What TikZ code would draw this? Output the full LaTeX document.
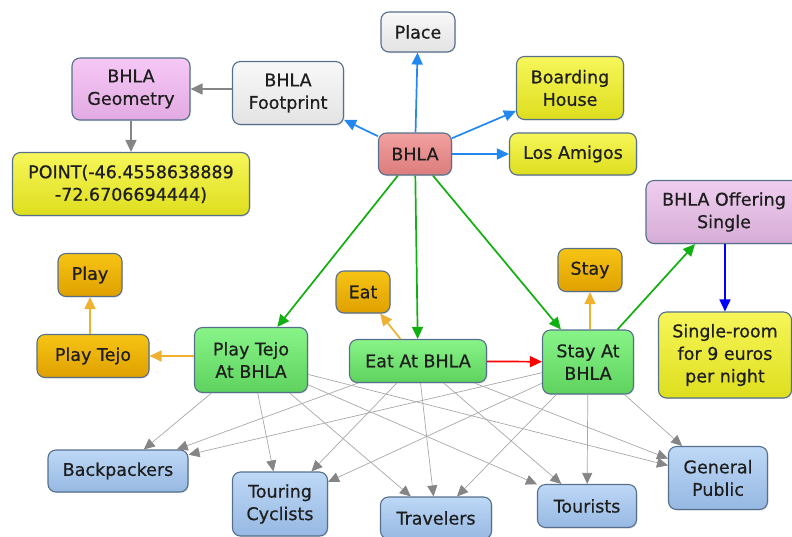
\documentclass[tikz,border=0pt]{standalone}
\usepackage{fontspec}
\setmainfont{DejaVu Sans}[FakeBold=0.6]
\usetikzlibrary{arrows.meta,shadows}

\definecolor{edgeframe}{HTML}{56708C}
\definecolor{txt}{HTML}{1E1E1E}
\definecolor{linkblue}{HTML}{2288F0}
\definecolor{linkgreen}{HTML}{10B010}
\definecolor{linkorange}{HTML}{F0B030}
\definecolor{linkgray}{HTML}{858585}
\definecolor{thingray}{HTML}{A8A8A8}

\tikzset{
  concept/.style={draw=edgeframe, line width=1.1pt, rounded corners=8pt,
    align=center, text=txt, inner sep=0pt,
    font=\fontsize{17.5}{22.5}\selectfont,
    drop shadow={opacity=0.18, shadow xshift=1pt, shadow yshift=-1.2pt}},
  graybox/.style={concept, top color=white!95!gray, bottom color=white!78!gray},
  pinkbox/.style={concept, top color={rgb,255:red,246;green,200;blue,246}, bottom color={rgb,255:red,226;green,170;blue,226}},
  violetbox/.style={concept, top color={rgb,255:red,240;green,206;blue,240}, bottom color={rgb,255:red,214;green,172;blue,214}},
  yellowbox/.style={concept, top color={rgb,255:red,246;green,246;blue,90}, bottom color={rgb,255:red,222;green,222;blue,30}},
  redbox/.style={concept, top color={rgb,255:red,242;green,160;blue,160}, bottom color={rgb,255:red,220;green,124;blue,124}},
  orangebox/.style={concept, top color={rgb,255:red,246;green,196;blue,20}, bottom color={rgb,255:red,224;green,160;blue,0}},
  greenbox/.style={concept, top color={rgb,255:red,136;green,244;blue,136}, bottom color={rgb,255:red,94;green,210;blue,94}},
  bluebox/.style={concept, top color={rgb,255:red,190;green,216;blue,246}, bottom color={rgb,255:red,150;green,184;blue,226}},
  boldlink/.style={line width=1.7pt, -{Triangle[length=12pt,width=11pt]}},
  bluelink/.style={boldlink, draw=linkblue, fill=linkblue},
  greenlink/.style={boldlink, draw=linkgreen, fill=linkgreen},
  orangelink/.style={boldlink, draw=linkorange, fill=linkorange},
  redlink/.style={boldlink, draw=red, fill=red},
  deepbluelink/.style={boldlink, draw=blue, fill=blue},
  graylink/.style={boldlink, draw=linkgray, fill=linkgray},
  thinlink/.style={draw=thingray, line width=0.7pt,
    -{Triangle[length=11pt,width=10pt,color=linkgray]}},
}

\begin{document}
\begin{tikzpicture}[x=1pt, y=-1pt]
  \useasboundingbox (0,0) rectangle (792,536);

  % top group
  \node[graybox,   minimum width=74pt,  minimum height=40pt] (place)  at (418,32)  {Place};
  \node[graybox,   minimum width=111pt, minimum height=63pt] (foot)   at (288,93)  {BHLA\\Footprint};
  \node[pinkbox,   minimum width=118pt, minimum height=62pt] (geom)   at (131,89)  {BHLA\\Geometry};
  \node[yellowbox, minimum width=237pt, minimum height=63pt] (point)  at (131,184) {POINT(-46.4558638889\\-72.6706694444)};
  \node[yellowbox, minimum width=107pt, minimum height=63pt] (board)  at (570,88)  {Boarding\\House};
  \node[redbox,    minimum width=73pt,  minimum height=42pt] (bhla)   at (415,154) {BHLA};
  \node[yellowbox, minimum width=127pt, minimum height=42pt] (amigos) at (573,154) {Los Amigos};

  % offering
  \node[violetbox, minimum width=156pt, minimum height=63pt] (offer)  at (724,212) {BHLA Offering\\Single};
  \node[yellowbox, minimum width=133pt, minimum height=86pt] (single) at (725,355) {Single-room\\for 9 euros\\per night};

  % activities
  \node[orangebox, minimum width=64pt,  minimum height=43pt] (play)   at (90,275)  {Play};
  \node[orangebox, minimum width=112pt, minimum height=43pt] (tejo)   at (93,356)  {Play Tejo};
  \node[greenbox,  minimum width=113pt, minimum height=65pt] (ptb)    at (251,360) {Play Tejo\\At BHLA};
  \node[orangebox, minimum width=54pt,  minimum height=42pt] (eat)    at (363,292) {Eat};
  \node[greenbox,  minimum width=137pt, minimum height=43pt] (eab)    at (418,361) {Eat At BHLA};
  \node[orangebox, minimum width=64pt,  minimum height=43pt] (stay)   at (590,270) {Stay};
  \node[greenbox,  minimum width=91pt,  minimum height=64pt] (sab)    at (588,362) {Stay At\\BHLA};

  % audiences
  \node[bluebox, minimum width=140pt, minimum height=42pt] (back)    at (118,471) {Backpackers};
  \node[bluebox, minimum width=95pt,  minimum height=64pt] (cyc)     at (280,504) {Touring\\Cyclists};
  \node[bluebox, minimum width=111pt, minimum height=42pt] (trav)    at (436,518) {Travelers};
  \node[bluebox, minimum width=99pt,  minimum height=43pt] (tour)    at (587,506) {Tourists};
  \node[bluebox, minimum width=99pt,  minimum height=63pt] (public)  at (718,478) {General\\Public};

  % audience links (thin, drawn first)
  \foreach \src in {ptb,eab,sab}
    \foreach \dst in {back,cyc,trav,tour,public}
      \draw[thinlink] (\src) -- (\dst);

  % links from BHLA
  \draw[bluelink] (bhla) -- (place);
  \draw[bluelink] (bhla) -- (foot);
  \draw[bluelink] (bhla) -- (board);
  \draw[bluelink] (bhla) -- (amigos);
  \draw[graylink] (foot.west |- geom.east) -- (geom.east);
  \draw[graylink] (geom) -- (point);

  \draw[greenlink] (bhla) -- (ptb);
  \draw[greenlink] (bhla) -- (eab);
  \draw[greenlink] (bhla) -- (sab);
  \draw[greenlink] (sab) -- (offer);
  \draw[deepbluelink] (offer.south -| single.north) -- (single.north);

  \draw[orangelink] (ptb.west |- tejo.east) -- (tejo.east);
  \draw[orangelink] (tejo.north -| play.south) -- (play.south);
  \draw[orangelink] (eab) -- (eat);
  \draw[orangelink] (sab.north -| stay.south) -- (stay.south);
  \draw[redlink] (eab) -- (sab);
\end{tikzpicture}
\end{document}
